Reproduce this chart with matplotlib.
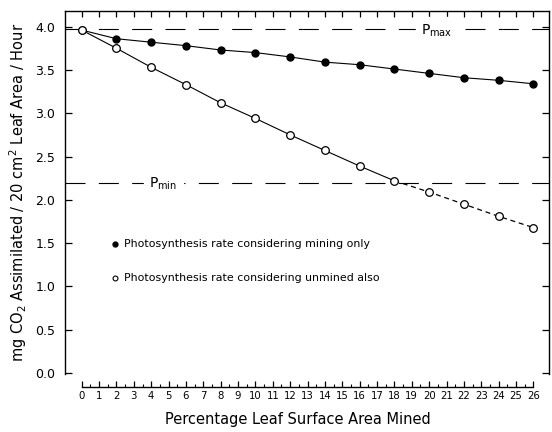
import matplotlib
matplotlib.use("Agg")
import matplotlib.pyplot as plt
from matplotlib.ticker import FixedLocator

# Percentage leaf surface area mined
pct_mined = [0, 2, 4, 6, 8, 10, 12, 14, 16, 18, 20, 22, 24, 26]

# mg CO2 assimilated / 20 cm2 leaf area / hour
rate_mining_only = [3.96, 3.86, 3.82, 3.78, 3.73, 3.70, 3.65, 3.59, 3.56,
                    3.51, 3.46, 3.41, 3.38, 3.34]
rate_unmined_also = [3.96, 3.75, 3.53, 3.33, 3.12, 2.94, 2.75, 2.57, 2.39,
                     2.22, 2.09, 1.95, 1.81, 1.68]

P_MAX = 3.97
P_MIN = 2.20

x_ticks = list(range(0, 27))
y_ticks = [0.0, 0.5, 1.0, 1.5, 2.0, 2.5, 3.0, 3.5, 4.0]

LABEL_FILLED = "Photosynthesis rate considering mining only"
LABEL_OPEN = "Photosynthesis rate considering unmined also"

fig = plt.figure(figsize=(5.52, 4.32), dpi=100)
ax = fig.add_axes([0.1178, 0.1343, 0.8768, 0.8402])

# reference levels
dash_long = (0, (18, 12))
ax.axhline(P_MAX, color="black", lw=0.8, linestyle=dash_long)
ax.axhline(P_MIN, color="black", lw=0.8, linestyle=dash_long)
ax.text(19.55, P_MAX - 0.02, r"$\mathrm{P}_{\mathrm{max}}$", fontsize=10,
        ha="left", va="center", backgroundcolor="white")
ax.text(3.9, P_MIN - 0.02, r"$\mathrm{P}_{\mathrm{min}}$", fontsize=10,
        ha="left", va="center", backgroundcolor="white")

# mining only (filled)
ax.plot(pct_mined, rate_mining_only, color="black", lw=0.8,
        marker="o", markersize=5, markerfacecolor="black")

# unmined also (open), solid up to 18 then dashed
split = pct_mined.index(18)
ax.plot(pct_mined[:split + 1], rate_unmined_also[:split + 1], color="black",
        lw=0.8)
ax.plot(pct_mined[split:], rate_unmined_also[split:], color="black",
        lw=0.9, linestyle=(0, (4, 3)))
ax.plot(pct_mined, rate_unmined_also, linestyle="none", marker="o",
        markersize=5.5, markerfacecolor="white", markeredgecolor="black",
        markeredgewidth=0.9)

# in-plot key
ax.plot([1.92], [1.49], marker="o", markersize=3.5, color="black")
ax.plot([1.92], [1.10], marker="o", markersize=3.5, markerfacecolor="white",
        markeredgecolor="black", markeredgewidth=0.8)
ax.text(2.45, 1.49, LABEL_FILLED, fontsize=7.9, va="center", ha="left")
ax.text(2.45, 1.10, LABEL_OPEN, fontsize=7.9, va="center", ha="left")

ax.set_xlim(-0.96, 26.9)
ax.set_ylim(-0.01, 4.18)

ax.set_xticks(x_ticks)
ax.set_xticklabels([str(v) for v in x_ticks])
ax.xaxis.set_minor_locator(FixedLocator([v + 0.5 for v in x_ticks[:-1]]))
ax.set_yticks(y_ticks)
ax.set_yticklabels([f"{v:.1f}" for v in y_ticks])

ax.spines["bottom"].set_position(("outward", 9.4))
ax.spines["bottom"].set_bounds(0, 26)
for s in ax.spines.values():
    s.set_linewidth(1.0)

ax.tick_params(axis="x", which="major", direction="in", length=4, width=0.9,
               labelsize=7.3, pad=3, top=True)
ax.tick_params(axis="x", which="minor", direction="in", length=2, width=0.8,
               top=False)
ax.tick_params(axis="y", which="major", direction="in", length=5, width=0.9,
               labelsize=9, pad=7, right=True)

ax.set_xlabel("Percentage Leaf Surface Area Mined", fontsize=10.5)
ax.xaxis.set_label_coords(0.481, -0.105)
ax.set_ylabel(r"mg CO$_2$ Assimilated / 20 cm$^2$ Leaf Area / Hour",
              fontsize=10.5)
ax.yaxis.set_label_coords(-0.074, 0.5)

fig.savefig("out.png", dpi=100)
